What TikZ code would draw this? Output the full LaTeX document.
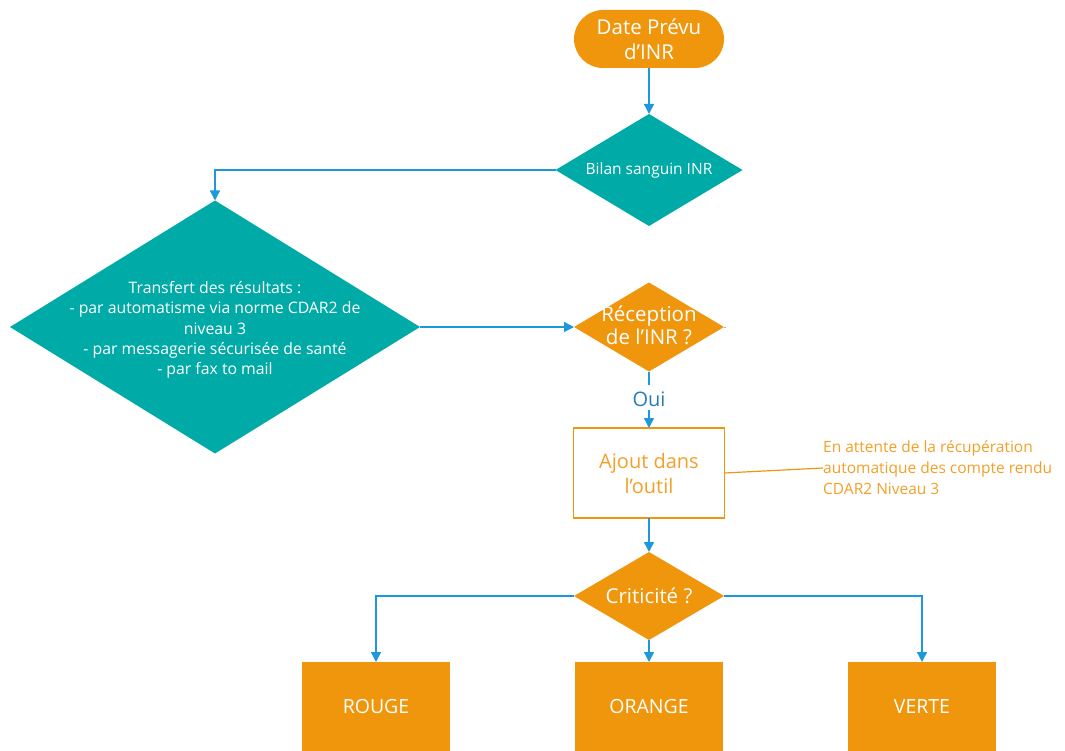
\documentclass[tikz,border=0pt]{standalone}
\usepackage{fontspec}
\setmainfont{Open Sans}
\usetikzlibrary{shapes.geometric,arrows.meta}
\definecolor{orgfill}{RGB}{240,150,12}
\definecolor{tealfill}{RGB}{0,170,166}
\definecolor{arrblue}{RGB}{30,152,220}
\definecolor{ouiblue}{RGB}{40,125,185}
\definecolor{orgtext}{RGB}{242,160,40}
\begin{document}
\begin{tikzpicture}[x=1pt,y=-1pt,
  wtext/.style={text=white,align=center,inner sep=0pt},
  tealdia/.style={diamond,fill=tealfill,inner sep=0pt,outer sep=0pt},
  orgdia/.style={diamond,fill=orgfill,inner sep=0pt,outer sep=0pt},
  orgbox/.style={rectangle,fill=orgfill,inner sep=0pt,outer sep=0pt,minimum width=148pt,minimum height=89pt,text=white,font=\fontsize{19.5}{22}\selectfont},
  arr/.style={draw=arrblue,line width=1.4pt,-{Triangle[length=10pt,width=10pt]}},
  bline/.style={draw=arrblue,line width=1.4pt},
  oline/.style={draw=orgfill,line width=1.2pt}]
\useasboundingbox (0,0) rectangle (1065,751);
% start
\node[rectangle,rounded corners=29pt,fill=orgfill,minimum width=150pt,minimum height=58pt,inner sep=0pt,outer sep=0pt,
  text=white,align=center,font=\fontsize{20.5}{25}\selectfont] (start) at (649,39) {Date Prévu\\d’INR};
% bilan
\node[tealdia,minimum width=187pt,minimum height=112pt] (bilan) at (649,170) {};
\node[wtext,font=\fontsize{15.5}{18}\selectfont] (bilanT) at (bilan) {Bilan sanguin INR};
% transfert
\node[tealdia,minimum width=410pt,minimum height=253pt] (transfert) at (215,327) {};
\node[wtext,font=\fontsize{15.8}{20.3}\selectfont] (transfertT) at (215,330) {Transfert des résultats :\\- par automatisme via norme CDAR2 de\\niveau 3\\- par messagerie sécurisée de santé\\- par fax to mail};
% reception
\node[orgdia,minimum width=150pt,minimum height=89pt] (recep) at (649,327) {};
\node[wtext,font=\fontsize{20.5}{23}\selectfont] (recepT) at (649,325) {Réception\\de l’INR ?};
% ajout
\node[rectangle,draw=orgfill,line width=1.2pt,fill=white,minimum width=151pt,minimum height=90pt,inner sep=0pt,outer sep=0pt,
  text=orgtext,align=center,font=\fontsize{20}{25}\selectfont] (ajout) at (649,473) {Ajout dans\\l’outil};
\node[anchor=west,text=orgtext,align=left,inner sep=0pt,font=\fontsize{15.5}{21}\selectfont] (note) at (823,468) {En attente de la récupération\\automatique des compte rendu\\CDAR2 Niveau 3};
% criticite
\node[orgdia,minimum width=150pt,minimum height=88pt] (crit) at (649,596) {};
\node[wtext,font=\fontsize{20.5}{22}\selectfont] (critT) at (crit) {Criticité ?};
% outcome boxes
\node[orgbox,anchor=north] (rouge) at (376,662) {ROUGE};
\node[orgbox,anchor=north] (orange) at (649,662) {ORANGE};
\node[orgbox,anchor=north] (verte) at (922,662) {VERTE};
% connectors
\draw[arr] (start.south) -- (bilan.north);
\draw[arr] (bilan.west) -| (transfert.north);
\draw[arr] (transfert.east) -- (recep.west);
\draw[bline] (recep.south) -- (649,385);
\node[text=ouiblue,inner sep=0pt,font=\fontsize{20}{22}\selectfont] (oui) at (649,399) {Oui};
\draw[arr] (649,410) -- (ajout.north);
\draw[oline] (ajout.east) -- (note.west);
\draw[arr] (ajout.south) -- (crit.north);
\draw[arr] (crit.west) -| (rouge.north);
\draw[arr] (crit.south) -- (orange.north);
\draw[arr] (crit.east) -| (verte.north);
\draw[draw=arrblue!60,line width=1pt] (recep.east) -- ++(2,0);
\end{tikzpicture}
\end{document}
